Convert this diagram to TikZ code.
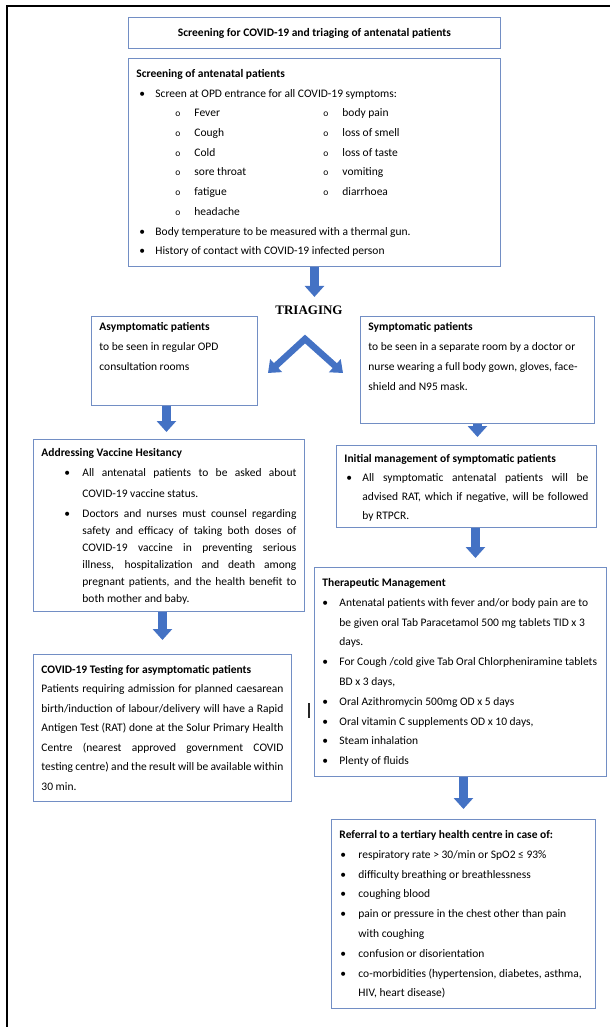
\documentclass[tikz,border=0pt]{standalone}
\usepackage{fontspec}
\setmainfont{Carlito}
\newfontfamily\triagefont{Liberation Serif}
\usetikzlibrary{arrows.meta}
\definecolor{boxline}{RGB}{114,142,196}
\definecolor{arrowblue}{HTML}{4472C4}
\newlength\bulpos
\newlength\bulind
\newcommand{\setbul}[2]{\setlength\bulpos{#1}\setlength\bulind{#2}}
\newcommand{\bul}[1]{\par\noindent\hangindent=\bulind\hangafter=1\makebox[\bulind][l]{\hspace*{\bulpos}\textbullet}#1}
\newcommand{\subo}{\makebox[19pt][l]{\fontsize{9.5}{9.5}\selectfont o}}
\newcommand{\sympair}[2]{\par\noindent\hspace*{39pt}\subo\makebox[129pt][l]{#1}\subo#2}
\newcommand{\symsingle}[1]{\par\noindent\hspace*{39pt}\subo#1}
\newcommand{\panel}[4]{\parbox[t][#2][t]{#1}{\rule{0pt}{#3}#4}}
\begin{document}
\begin{tikzpicture}[x=1pt,y=-1pt,
box/.style={draw=boxline,line width=0.9pt,anchor=north west,inner xsep=8pt,inner ysep=0pt,font=\fontsize{11.5}{19.7}\selectfont},
flow/.style={draw=arrowblue,line width=8.5pt,->},
>={Triangle[width=19pt,length=11pt]}]
\useasboundingbox (0,0) rectangle (610,1027);
\draw[line width=2pt] (7,1027) -- (7,6) -- (610,6);
\node[box,inner sep=0pt,minimum width=372pt,minimum height=31pt,font=\fontsize{11.5}{14}\selectfont\bfseries] (title) at (128,17) {Screening for COVID-19 and triaging of antenatal patients};
\node[box] (screen) at (128,58) {\panel{356pt}{208pt}{19pt}{\raggedright\setbul{3pt}{19pt}%
\textbf{Screening of antenatal patients}
\bul{Screen at OPD entrance for all COVID-19 symptoms:}
\sympair{Fever}{body pain}
\sympair{Cough}{loss of smell}
\sympair{Cold}{loss of taste}
\sympair{sore throat}{vomiting}
\sympair{fatigue}{diarrhoea}
\symsingle{headache}
\bul{Body temperature to be measured with a thermal gun.}
\bul{History of contact with COVID-19 infected person}}};
\node[inner sep=0pt,font=\triagefont\bfseries\fontsize{13}{13}\selectfont] (triage) at (309,310) {TRIAGING};
\node[box] (asym) at (91,316) {\panel{150pt}{89pt}{14pt}{\raggedright\baselineskip=20pt
\textbf{Asymptomatic patients}\par
to be seen in regular OPD\newline consultation rooms}};
\node[box] (sym) at (360,316) {\panel{218pt}{107pt}{14pt}{\raggedright\baselineskip=20pt
\textbf{Symptomatic patients}\par
to be seen in a separate room by a doctor or\newline nurse wearing a full body gown, gloves, face-\newline shield and N95 mask.}};
\node[box] (vaccine) at (33,439) {\panel{255pt}{172pt}{17pt}{\setbul{23pt}{41pt}%
\textbf{Addressing Vaccine Hesitancy}
{\baselineskip=20.5pt \bul{All antenatal patients to be asked about\linebreak COVID-19 vaccine status.}\par}
{\baselineskip=17pt \vspace{3pt}\bul{Doctors and nurses must counsel regarding\linebreak safety and efficacy of taking both doses of\linebreak COVID-19 vaccine in preventing serious\linebreak illness, hospitalization and death among\linebreak pregnant patients, and the health benefit to\linebreak both mother and baby.}\par}}};
\node[box] (init) at (336,445) {\panel{244pt}{82pt}{17pt}{\baselineskip=19pt\setbul{2pt}{18pt}%
\textbf{Initial management of symptomatic patients}
\bul{All symptomatic antenatal patients will be\linebreak advised RAT, which if negative, will be followed\linebreak by RTPCR.}}};
\node[box] (thera) at (314,567) {\panel{276pt}{209pt}{19pt}{\raggedright\baselineskip=19.8pt\setbul{0pt}{17pt}%
\textbf{Therapeutic Management}
\bul{Antenatal patients with fever and/or body pain are to\newline be given oral Tab Paracetamol 500 mg tablets TID x 3\newline days.}
\bul{For Cough /cold give Tab Oral Chlorpheniramine tablets\newline BD x 3 days,}
\bul{Oral Azithromycin 500mg OD x 5 days}
\bul{Oral vitamin C supplements OD x 10 days,}
\bul{Steam inhalation}
\bul{Plenty of fluids}}};
\node[box] (test) at (33,654) {\panel{242pt}{147pt}{19pt}{\baselineskip=19.5pt
\textbf{COVID-19 Testing for asymptomatic patients}\par
Patients requiring admission for planned caesarean\linebreak birth/induction of labour/delivery will have a Rapid\linebreak Antigen Test (RAT) done at the Solur Primary Health\linebreak Centre (nearest approved government COVID\linebreak testing centre) and the result will be available within\linebreak 30 min.}};
\node[box] (refer) at (331,819) {\panel{248pt}{189pt}{19pt}{\raggedright\baselineskip=19.8pt\setbul{1pt}{19pt}%
\textbf{Referral to a tertiary health centre in case of:}
\bul{respiratory rate > 30/min or SpO2 ≤ 93\%}
\bul{difficulty breathing or breathlessness}
\bul{coughing blood}
\bul{pain or pressure in the chest other than pain\newline with coughing}
\bul{confusion or disorientation}
\bul{co-morbidities (hypertension, diabetes, asthma,\newline HIV, heart disease)}}};
\coordinate (split) at (305,339);
\coordinate (asymend) at (268,373);
\coordinate (symend) at (343,373);
\draw[flow,shorten >=8.5pt] (screen.south) -- (screen.south |- triage.north);
\draw[flow,line width=6.5pt,<->,>={Triangle[width=17pt,length=11pt]},line join=miter] (asymend) -- (split) -- (symend);
\draw[flow,shorten >=7pt] ([xshift=-8pt]asym.south) -- ([xshift=-8pt]asym.south |- vaccine.north);
\draw[flow,shorten >=8pt] (sym.south) -- (sym.south |- init.north);
\draw[flow,shorten >=9pt] ([xshift=9pt]init.south) -- ([xshift=9pt]init.south |- thera.north);
\draw[flow,shorten >=14pt] (vaccine.south -| test.north) -- (test.north);
\draw[flow,shorten >=10pt] (thera.south -| refer.north) -- (refer.north);
\draw[line width=1.3pt,black!85] (309,703) -- (309,718);
\end{tikzpicture}
\end{document}
